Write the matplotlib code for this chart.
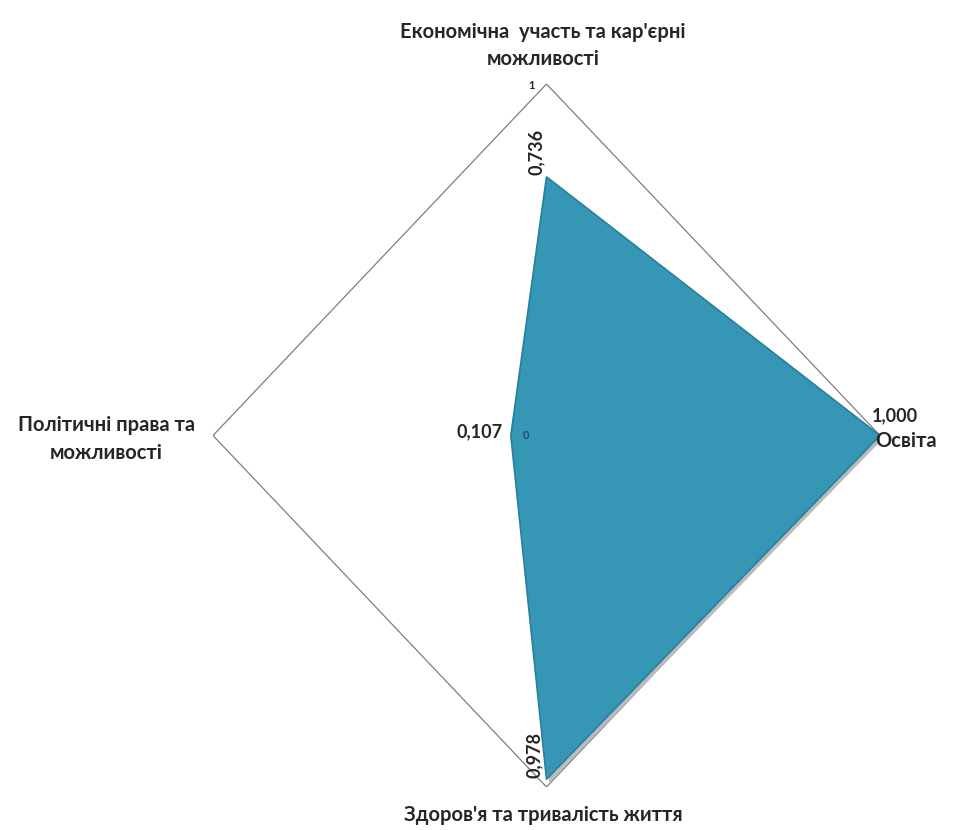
import numpy as np
import matplotlib
matplotlib.use("Agg")
import matplotlib.pyplot as plt

categories = ["Економічна  участь та кар'єрні\nможливості", "Освіта",
              "Здоров'я та тривалість життя", "Політичні права та\nможливості"]
values = [0.736, 1.000, 0.978, 0.107]
value_labels = ["0,736", "1,000", "0,978", "0,107"]
tick_labels = ["0", "1"]

plt.rcParams['font.family'] = ['Lato', 'DejaVu Sans']

fig = plt.figure(figsize=(9.6, 8.3), dpi=100)
ax = fig.add_axes([213/960, 1-787/830, 667/960, 703/830])
ax.set_xlim(-1, 1)
ax.set_ylim(-1, 1)
ax.axis('off')

angles = np.pi/2 - np.arange(4) * np.pi/2
v = np.array(values)
xs = v * np.cos(angles)
ys = v * np.sin(angles)

# outer frame at r=1
fx = np.cos(angles); fy = np.sin(angles)
ax.plot(np.append(fx, fx[0]), np.append(fy, fy[0]), color='#7f7f7f', lw=0.9, zorder=1)

# shadow
ax.fill(xs + 0.008, ys - 0.010, color='#b9bcbe', zorder=2, lw=0)
# main fill
ax.fill(xs, ys, facecolor='#3596b5', edgecolor='#2a7f9b', lw=1.2, zorder=3)

txtc = '#262626'
fw = 'bold'
# tick labels
ax.text(-0.045, 0.995, tick_labels[1], ha='center', va='center', fontsize=8, color=txtc, fontweight=fw)
ax.text(-0.062, 0.0, tick_labels[0], ha='center', va='center', fontsize=8, color='#1f4e5e', fontweight=fw, zorder=5)

# value labels
ax.text(xs[0] - 0.032, ys[0] + 0.005, value_labels[0], rotation=90, ha='center', va='bottom',
        fontsize=13, fontweight=fw, color=txtc, zorder=5)
ax.text(xs[1] - 0.025, 0.057, value_labels[1], ha='left', va='center',
        fontsize=13, fontweight=fw, color=txtc, zorder=5)
ax.text(xs[2] - 0.037, ys[2] + 0.005, value_labels[2], rotation=90, ha='center', va='bottom',
        fontsize=13, fontweight=fw, color=txtc, zorder=5)
ax.text(xs[3] - 0.025, 0.01, value_labels[3], ha='right', va='center',
        fontsize=13, fontweight=fw, color=txtc, zorder=5)

# category labels
ax.text(-0.01, 1.11, categories[0], ha='center', va='center', fontsize=14.5, fontweight=fw,
        color=txtc, linespacing=1.45, clip_on=False)
ax.text(0.985, -0.015, categories[1], ha='left', va='center', fontsize=14.5, fontweight=fw,
        color=txtc, clip_on=False)
ax.text(-0.01, -1.08, categories[2], ha='center', va='center', fontsize=14.5, fontweight=fw,
        color=txtc, clip_on=False)
ax.text(-1.32, -0.01, categories[3], ha='center', va='center', fontsize=14.5, fontweight=fw,
        color=txtc, linespacing=1.55, clip_on=False)

fig.savefig('out.png', dpi=100)
